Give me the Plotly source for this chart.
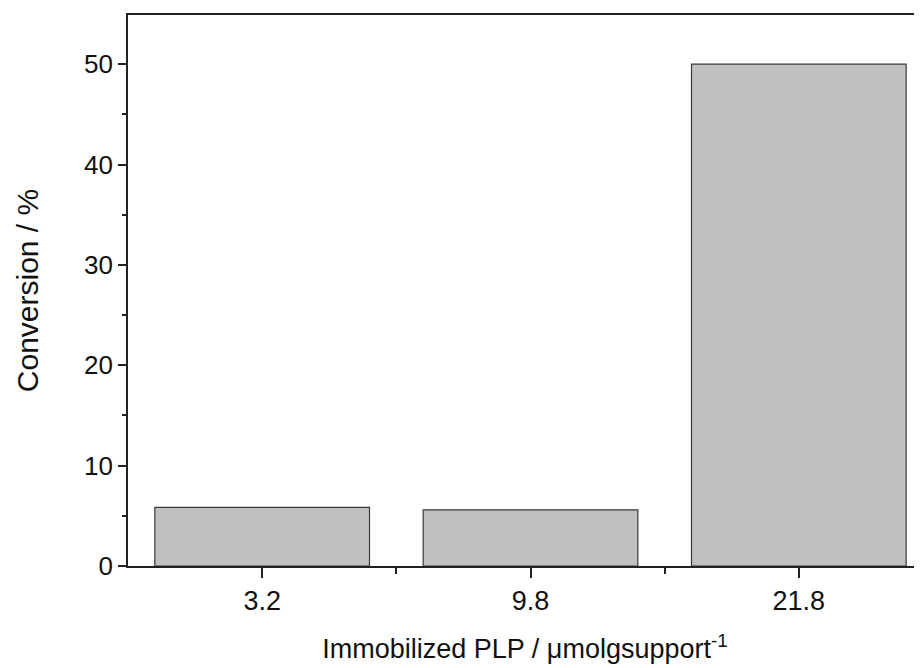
import plotly.graph_objects as go

categories = ["3.2", "9.8", "21.8"]
conversion = [5.85, 5.6, 50.0]
x_pos = [0, 1, 2]

fig = go.Figure()
fig.add_trace(go.Bar(
    x=x_pos, y=conversion, width=0.8,
    marker=dict(color="#c0c0c0", line=dict(color="#3a3a3a", width=1.2)),
))

fig.update_layout(
    width=914, height=660,
    margin=dict(l=120, r=0, t=7, b=102),
    plot_bgcolor="white", paper_bgcolor="white",
    showlegend=False,
    font=dict(family="Liberation Sans, Arial, sans-serif", color="#111"),
    bargap=0.2,
)
fig.update_xaxes(
    range=[-0.5, 2.459],
    tickmode="array", tickvals=x_pos, ticktext=categories,
    ticks="outside", ticklen=10, tickwidth=1.5, tickcolor="#222",
    showline=True, linecolor="#222", linewidth=1.8, mirror=True,
    showgrid=False, zeroline=False,
    tickfont=dict(size=27),
    minor=dict(tickmode="array", tickvals=[0.5, 1.5], ticks="outside", ticklen=6,
               tickwidth=1.5, tickcolor="#222", showgrid=False),
    title=dict(text="Immobilized PLP / μmolgsupport<sup>-1</sup>", font=dict(size=27), standoff=24),
)
fig.update_yaxes(
    range=[0, 54.9],
    tickmode="array", tickvals=[0, 10, 20, 30, 40, 50],
    ticks="outside", ticklen=8, tickwidth=1.5, tickcolor="#222",
    showline=True, linecolor="#222", linewidth=1.8, mirror=False,
    showgrid=False, zeroline=False,
    tickfont=dict(size=26),
    minor=dict(tickmode="array", tickvals=[5, 15, 25, 35, 45], ticks="outside", ticklen=4,
               tickwidth=1.5, tickcolor="#222", showgrid=False),
    title=dict(text="Conversion / %", font=dict(size=30), standoff=36),
)

fig.write_html("out.html")
